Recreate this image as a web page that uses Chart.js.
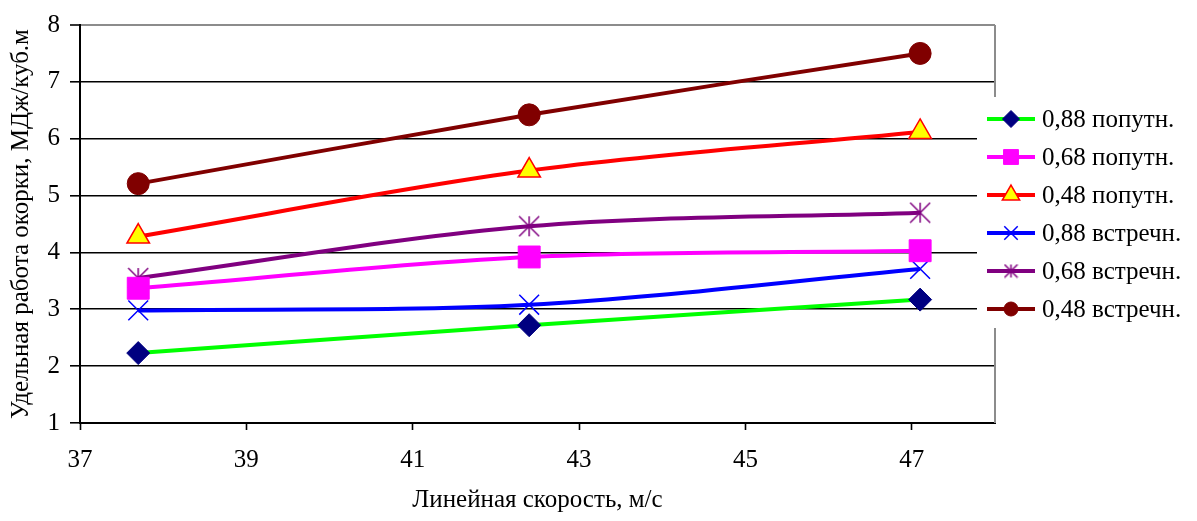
<!DOCTYPE html>
<html>
<head>
<meta charset="utf-8">
<script src="https://cdn.jsdelivr.net/npm/chart.js@4.4.1/dist/chart.umd.min.js"></script>
<style>
  html, body { margin: 0; padding: 0; background: #fff; overflow: hidden; }
  canvas { display: block; }
</style>
</head>
<body>
<canvas id="chart" width="1197" height="521"></canvas>
<script>
// Line speed, m/s (x positions of the measurements)
const speeds = [37.7, 42.4, 47.1];

// Specific debarking work, MJ per cubic metre
const seriesNames = ['0,88 попутн.', '0,68 попутн.', '0,48 попутн.',
                     '0,88 встречн.', '0,68 встречн.', '0,48 встречн.'];
const along88   = [2.23, 2.72, 3.17];
const along68   = [3.37, 3.92, 4.03];
const along48   = [4.28, 5.44, 6.12];
const counter88 = [2.98, 3.08, 3.71];
const counter68 = [3.55, 4.46, 4.70];
const counter48 = [5.21, 6.42, 7.50];

const xTicks = [37, 39, 41, 43, 45, 47];
const yTicks = [1, 2, 3, 4, 5, 6, 7, 8];
const xTitle = 'Линейная скорость, м/с';
const yTitle = 'Удельная работа окорки, МДж/куб.м';

const FONT = '"Liberation Serif", "Times New Roman", serif';
const FONT_SIZE = 25;

// Asterisk marker: vertical stroke plus a diagonal cross
function asterisk(size, color, lw) {
  const c = document.createElement('canvas');
  c.width = c.height = size;
  const g = c.getContext('2d');
  const m = size / 2, r = size / 2 - 1;
  g.strokeStyle = color;
  g.lineWidth = lw;
  g.beginPath();
  g.moveTo(m, m - r); g.lineTo(m, m + r);
  g.moveTo(m - r, m - r); g.lineTo(m + r, m + r);
  g.moveTo(m + r, m - r); g.lineTo(m - r, m + r);
  g.stroke();
  return c;
}

const seriesValues = [along88, along68, along48, counter88, counter68, counter48];
const seriesStyles = [
  { line: '#00FF00', point: 'rectRot',  fill: '#000080', edge: '#000080', r: 11.5, lr: 8.5, bw: 1 },
  { line: '#FF00FF', point: 'rect',     fill: '#FF00FF', edge: '#FF00FF', r: 15.5, lr: 10.5, bw: 1 },
  { line: '#FF0000', point: 'triangle', fill: '#FFFF00', edge: '#FF0000', r: 13,   lr: 10,  bw: 1.5 },
  { line: '#0000FF', point: 'crossRot', fill: '#0000FF', edge: '#0000FF', r: 14,   lr: 9.5, bw: 1.5 },
  { line: '#800080', point: asterisk(22, '#800080', 1.5), legendPoint: asterisk(15, '#800080', 1.5),
    fill: '#800080', edge: '#800080', r: 11, lr: 7, bw: 1.5 },
  { line: '#800000', point: 'circle',   fill: '#800000', edge: '#800000', r: 11,   lr: 7,   bw: 1 }
];

const datasets = seriesNames.map((name, i) => {
  const s = seriesStyles[i];
  return {
    label: name,
    data: speeds.map((x, k) => ({ x: x, y: seriesValues[i][k] })),
    borderColor: s.line,
    borderWidth: 4,
    tension: 0.33,
    pointStyle: s.point,
    pointRadius: s.r,
    pointHoverRadius: s.r,
    pointBackgroundColor: s.fill,
    pointBorderColor: s.edge,
    pointBorderWidth: s.bw,
    legendPoint: s.legendPoint || s.point,
    legendRadius: s.lr
  };
});

// Gray frame on the right of the plot area
const frame = {
  id: 'frame',
  beforeDatasetsDraw(chart) {
    const { ctx, chartArea: a } = chart;
    ctx.save();
    ctx.strokeStyle = '#8c8c8c';
    ctx.lineWidth = 2;
    ctx.beginPath();
    ctx.moveTo(a.right, a.top);
    ctx.lineTo(a.right, a.bottom);
    ctx.stroke();
    ctx.restore();
  }
};

// Legend box at the right, overlapping the plot edge
const sideLegend = {
  id: 'sideLegend',
  afterDraw(chart) {
    const { ctx, chartArea: a } = chart;
    const left = a.right - 18, top = 97, rowH = 38;
    ctx.save();
    ctx.fillStyle = '#fff';
    ctx.fillRect(left, top, chart.width - left, rowH * chart.data.datasets.length + 3);
    chart.data.datasets.forEach((ds, i) => {
      const y = top + 22 + i * rowH;
      const x0 = left + 10, x1 = left + 58, xm = (x0 + x1) / 2;
      ctx.strokeStyle = ds.borderColor;
      ctx.lineWidth = 4;
      ctx.beginPath();
      ctx.moveTo(x0, y); ctx.lineTo(x1, y);
      ctx.stroke();
      ctx.fillStyle = ds.pointBackgroundColor;
      ctx.strokeStyle = ds.pointBorderColor;
      ctx.lineWidth = ds.pointBorderWidth;
      Chart.helpers.drawPoint(ctx, {
        pointStyle: ds.legendPoint, radius: ds.legendRadius,
        rotation: 0, borderWidth: ds.pointBorderWidth
      }, xm, y);
      ctx.fillStyle = '#000';
      ctx.font = FONT_SIZE + 'px ' + FONT;
      ctx.textAlign = 'left';
      ctx.textBaseline = 'middle';
      ctx.fillText(ds.label, x1 + 7, y + 1);
    });
    ctx.restore();
  }
};

new Chart(document.getElementById('chart'), {
  type: 'line',
  data: { datasets: datasets },
  plugins: [frame, sideLegend],
  options: {
    responsive: false,
    animation: false,
    devicePixelRatio: 1,
    layout: { padding: { left: 0, top: 20, right: 202, bottom: 0 } },
    plugins: { legend: { display: false }, tooltip: { enabled: false } },
    scales: {
      x: {
        type: 'linear',
        min: 37,
        max: 48,
        afterBuildTicks: axis => { axis.ticks = xTicks.map(v => ({ value: v })); },
        afterFit: axis => { axis.height = 98; },
        grid: { drawOnChartArea: false, drawTicks: true, tickLength: 7, tickColor: '#000', tickWidth: 1.6 },
        border: { display: true, color: '#000', width: 2 },
        ticks: { color: '#000', padding: 15, maxRotation: 0, font: { family: FONT, size: FONT_SIZE } },
        title: { display: true, text: xTitle, color: '#000', padding: { top: 0, bottom: 6 },
                 font: { family: FONT, size: FONT_SIZE } }
      },
      y: {
        type: 'linear',
        min: 1,
        max: 8,
        afterBuildTicks: axis => { axis.ticks = yTicks.map(v => ({ value: v })); },
        afterFit: axis => { axis.width = 80; },
        grid: {
          color: ctx => (ctx.tick && ctx.tick.value === 8) ? '#8c8c8c' : '#000',
          lineWidth: ctx => (ctx.tick && ctx.tick.value === 8) ? 2 : 1.6,
          tickLength: 10, tickColor: '#000', tickWidth: 1.6
        },
        border: { display: true, color: '#000', width: 2 },
        ticks: { color: '#000', padding: 10, font: { family: FONT, size: FONT_SIZE } },
        title: { display: true, text: yTitle, color: '#000', padding: { top: 6, bottom: 0 },
                 font: { family: FONT, size: FONT_SIZE } }
      }
    }
  }
});
</script>
</body>
</html>
